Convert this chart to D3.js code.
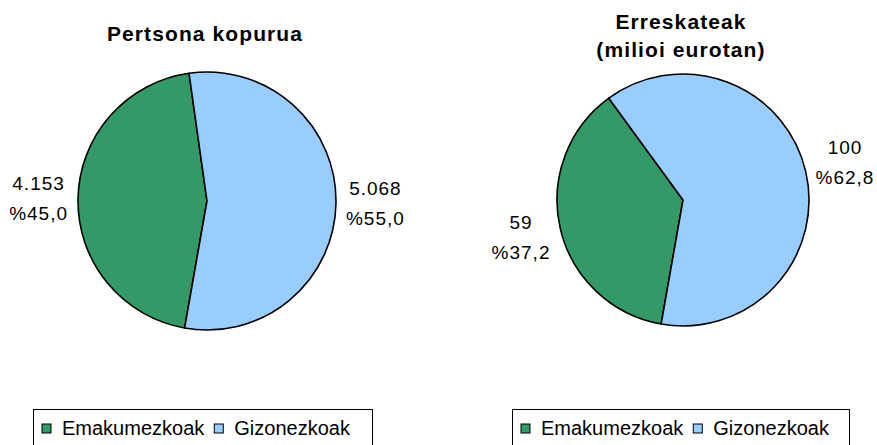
<!DOCTYPE html>
<html>
<head>
<meta charset="utf-8">
<script src="https://cdn.jsdelivr.net/npm/d3@7"></script>
<style>
  body { margin: 0; background: #fff; }
  svg text { font-family: Arial, "Liberation Sans", sans-serif; fill: #000; }
</style>
</head>
<body>
<svg id="chart" width="877" height="445"></svg>
<script>
const categories = ["Emakumezkoak", "Gizonezkoak"];
const colors = ["#339966", "#99ccff"];

const personCounts = [4153, 5068];
const personPct = [45.0, 55.0];

const loanMillions = [59, 100];
const loanPct = [37.2, 62.8];

const titles = [["Pertsona kopurua"], ["Erreskateak", "(milioi eurotan)"]];

const eu = d3.formatLocale({ decimal: ",", thousands: ".", grouping: [3], currency: ["", "€"] });
const fmtNum = eu.format(",d");
const fmtPct = eu.format(".1f");

const svg = d3.select("#chart");

const charts = [
  { cx: 207, cy: 201, r: 129, counts: personCounts, pct: personPct, title: titles[0], titleY: 41, legendX: 33, legendW: 339 },
  { cx: 683, cy: 200, r: 126, counts: loanMillions, pct: loanPct, title: titles[1], titleY: 29, legendX: 512, legendW: 337 }
];

const start = 190 * Math.PI / 180;
const pie = d3.pie().sort(null).startAngle(start).endAngle(start + 2 * Math.PI);

charts.forEach(c => {
  const g = svg.append("g").attr("transform", `translate(${c.cx},${c.cy})`);
  const arc = d3.arc().innerRadius(0).outerRadius(c.r);
  const slices = pie(c.pct);

  g.selectAll("path")
    .data(slices)
    .enter().append("path")
    .attr("d", arc)
    .style("fill", (d, i) => colors[i])
    .style("stroke", "#000")
    .style("stroke-width", 1.6)
    .style("stroke-linejoin", "round");

  // title
  c.title.forEach((t, i) => {
    svg.append("text")
      .attr("x", c.cx - 2)
      .attr("y", c.titleY + i * 28)
      .attr("text-anchor", "middle")
      .style("font-size", "21px")
      .style("font-weight", "bold")
      .style("letter-spacing", "1.1px")
      .text(t);
  });

  // data labels outside the pie
  slices.forEach((s, i) => {
    const a = (s.startAngle + s.endAngle) / 2;
    const rr = c.r + 8;
    const px = c.cx + rr * Math.sin(a);
    const py = c.cy - rr * Math.cos(a) * 1.25;
    const lines = [fmtNum(c.counts[i]), "%" + fmtPct(c.pct[i])];
    const lg = svg.append("g");
    const texts = lines.map((t, k) => lg.append("text")
      .attr("y", k * 30)
      .attr("text-anchor", "middle")
      .style("font-size", "19px")
      .style("letter-spacing", "1px")
      .text(t));
    const w = d3.max(texts, t => t.node().getComputedTextLength());
    const bx = Math.sin(a) >= 0 ? px + w / 2 + 2 : px - w / 2 - 2;
    texts.forEach(t => t.attr("x", bx));
    lg.attr("transform", `translate(0,${py - 8.5})`);
  });

  // legend
  const lgd = svg.append("g").attr("transform", `translate(${c.legendX},409)`);
  lgd.append("rect")
    .attr("x", 0.5).attr("y", 0.5)
    .attr("width", c.legendW).attr("height", 60)
    .style("fill", "#fff")
    .style("stroke", "#000")
    .style("stroke-width", 1);
  let x = 9;
  categories.forEach((cat, i) => {
    lgd.append("rect")
      .attr("x", x).attr("y", 15)
      .attr("width", 9).attr("height", 9)
      .style("fill", colors[i])
      .style("stroke", "#000")
      .style("stroke-width", 1);
    const t = lgd.append("text")
      .attr("x", x + 20)
      .attr("y", 26)
      .style("font-size", "20px")
      .text(cat);
    x += 20 + t.node().getComputedTextLength() + 10;
  });
});
</script>
</body>
</html>
